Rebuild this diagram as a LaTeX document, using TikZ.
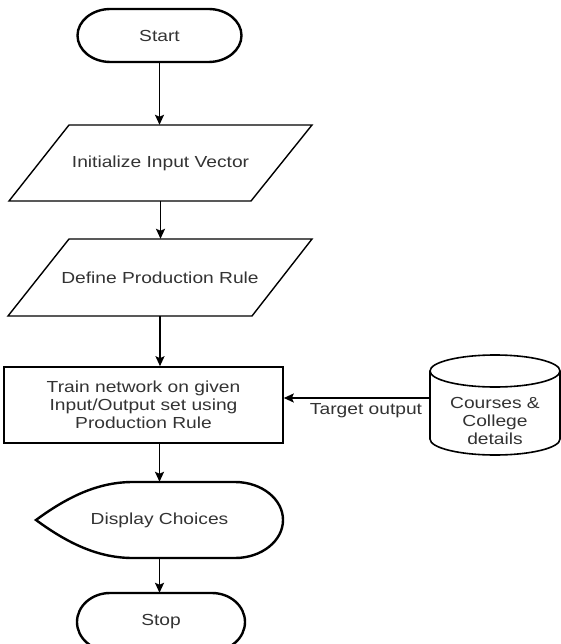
\documentclass[tikz,border=0pt]{standalone}
\usepackage{fontspec}
\setmainfont{Liberation Sans}[FakeStretch=1.2]
\usetikzlibrary{arrows.meta}
\begin{document}
\begin{tikzpicture}[x=1pt,y=-1pt,
  txt/.style={font=\fontsize{16}{18}\selectfont, text=black!80, align=center},
  anchorbox/.style={draw=none, inner sep=0pt, txt},
  termline/.style={line width=2.4pt},
  paraline/.style={line width=1.4pt},
  boxline/.style={line width=1.6pt},
  arr/.style={line width=1.8pt, -{Stealth[length=10pt,width=9pt,inset=2pt]}}]
\useasboundingbox (0,0) rectangle (561,644);
\clip (0,0) rectangle (561,644);
\fill[white] (0,0) rectangle (561,644);

% Start
\node[anchorbox, minimum width=165pt, minimum height=53pt] (start) at (159.5,35.5) {Start};
\draw[termline] (110.5,9) -- (208.5,9) arc[start angle=-90,end angle=90,x radius=33,y radius=26.5]
  -- (110.5,62) arc[start angle=90,end angle=270,x radius=33,y radius=26.5] -- cycle;

% Initialize Input Vector
\node[anchorbox, minimum width=243pt, minimum height=76pt] (p1) at (160.5,163) {Initialize Input Vector};
\draw[paraline] (69,125) -- (312,125) -- (251,201) -- (9,201) -- cycle;

% Define Production Rule
\node[anchorbox, minimum width=243pt, minimum height=77pt] (p2) at (160,277.5) {Define Production Rule};
\draw[paraline] (69,239) -- (312,239) -- (252,316) -- (8,316) -- cycle;

% Train
\node[draw, boxline, txt, minimum width=279pt, minimum height=76pt, inner sep=0pt] (train) at (143.5,405)
  {Train network on given\\Input/Output set using\\Production Rule};

% Cylinder
\node[anchorbox, minimum width=130pt, minimum height=100pt] (cyl) at (495,405) {};
\draw[boxline] (430,371) -- (430,439) arc[start angle=180,end angle=0,x radius=65,y radius=16]
  -- (560,371);
\draw[boxline] (495,371) ellipse[x radius=65,y radius=16];
\node[txt] (cyltext) at (495,421) {Courses \&\\College\\details};

% Display
\node[anchorbox, minimum width=247pt, minimum height=76pt] (disp) at (159.5,520) {Display Choices};
\draw[termline] (36,520) .. controls (70,495) and (100,482) .. (133,482) -- (235,482)
  arc[start angle=-90,end angle=90,x radius=48,y radius=38]
  -- (133,558) .. controls (100,558) and (70,545) .. cycle;

% Stop
\node[anchorbox, minimum width=168pt, minimum height=58pt] (stop) at (161,622) {Stop};
\draw[termline] (110,593) -- (212,593) arc[start angle=-90,end angle=90,x radius=33,y radius=29]
  -- (110,651) arc[start angle=90,end angle=270,x radius=33,y radius=29] -- cycle;

% Connectors
\draw[arr] (start.south) -- (start.south |- p1.north);
\draw[arr] (p1.south) -- (p1.south |- p2.north);
\draw[arr] (p2.south) -- (p2.south |- train.north);
\draw[arr] (disp.north |- train.south) -- (disp.north);
\draw[arr] (disp.south) -- (disp.south |- stop.north);
\coordinate (ty) at (0,398);
\draw[arr] (cyl.west |- ty) -- (train.east |- ty);
\node[txt, anchor=base] (tlabel) at (366,414) {Target output};
\end{tikzpicture}
\end{document}
